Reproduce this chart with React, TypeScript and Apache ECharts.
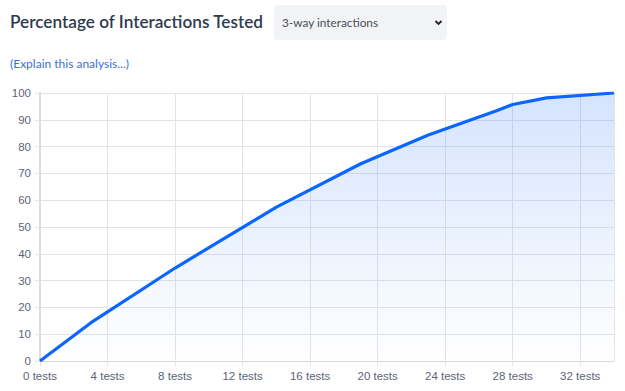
import React, { useEffect, useRef } from "react";
import * as echarts from "echarts";

const testCounts = [0, 3, 8, 14, 19, 23, 27, 28, 30, 34];
const percentTested = [0, 14.2, 34.7, 57.4, 73.6, 84.3, 93.3, 95.7, 98.2, 100];
const titleText = "Percentage of Interactions Tested";
const selectText = "3-way interactions";
const linkText = "(Explain this analysis...)";

export default function App() {
  const ref = useRef<HTMLDivElement>(null);
  useEffect(() => {
    if (!ref.current) return;
    const chart = echarts.init(ref.current, null, { renderer: "svg" });
    const data = testCounts.map((t, i) => [t, percentTested[i]]);
    const labelColor = "#5b6478";
    const gridColor = "#e4e4e4";
    chart.setOption({
      animation: false,
      backgroundColor: "#ffffff",
      grid: { left: 40, right: 11, top: 93, bottom: 30, containLabel: false },
      graphic: [
        {
          type: "text",
          left: 10,
          top: 13,
          style: {
            text: titleText,
            fill: "#2e3a50",
            font: "600 17.2px Lato, sans-serif",
          },
        },
        {
          type: "rect",
          shape: { x: 274, y: 5, width: 173, height: 35, r: 4 },
          style: { fill: "#f2f3f5" },
        },
        {
          type: "text",
          left: 282,
          top: 16,
          style: {
            text: selectText,
            fill: "#4a4f59",
            font: "11.8px Lato, sans-serif",
          },
        },
        {
          type: "polyline",
          shape: { points: [[435.5, 21], [438.5, 24], [441.5, 21]] },
          style: { stroke: "#222", lineWidth: 1.8, fill: null },
        },
        {
          type: "text",
          left: 10,
          top: 57,
          style: {
            text: linkText,
            fill: "#3a6fd8",
            font: "12px Lato, sans-serif",
          },
        },
      ],
      xAxis: {
        type: "value",
        min: 0,
        max: 34,
        interval: 4,
        axisLine: { show: true, lineStyle: { color: "#d6d6d6", width: 1 } },
        axisTick: { show: true, length: 5, lineStyle: { color: gridColor } },
        splitLine: { show: true, lineStyle: { color: gridColor, width: 1 } },
        axisLabel: {
          color: labelColor,
          fontSize: 11.5,
          fontFamily: "'Liberation Sans', Arial, sans-serif",
          margin: 9,
          showMaxLabel: false,
          formatter: (v: number) => `${v} tests`,
        },
      },
      yAxis: {
        type: "value",
        min: 0,
        max: 100,
        interval: 10,
        axisLine: { show: true, lineStyle: { color: "#dcdcdc", width: 2 } },
        axisTick: { show: true, length: 5, lineStyle: { color: gridColor } },
        splitLine: { show: true, lineStyle: { color: gridColor, width: 1 } },
        axisLabel: {
          color: labelColor,
          fontSize: 11.5,
          fontFamily: "'Liberation Sans', Arial, sans-serif",
          margin: 9,
        },
      },
      series: [
        {
          type: "line",
          data,
          symbol: "none",
          lineStyle: { color: "#0a66ff", width: 3.2 },
          areaStyle: {
            color: new echarts.graphic.LinearGradient(0, 0, 0, 1, [
              { offset: 0, color: "rgba(55,125,250,0.3)" },
              { offset: 1, color: "rgba(55,125,250,0.0)" },
            ]),
          },
        },
      ],
    });
    return () => chart.dispose();
  }, []);
  return (
    <div
      ref={ref}
      style={{ position: "fixed", left: 0, top: 0, width: 625, height: 391 }}
    />
  );
}
